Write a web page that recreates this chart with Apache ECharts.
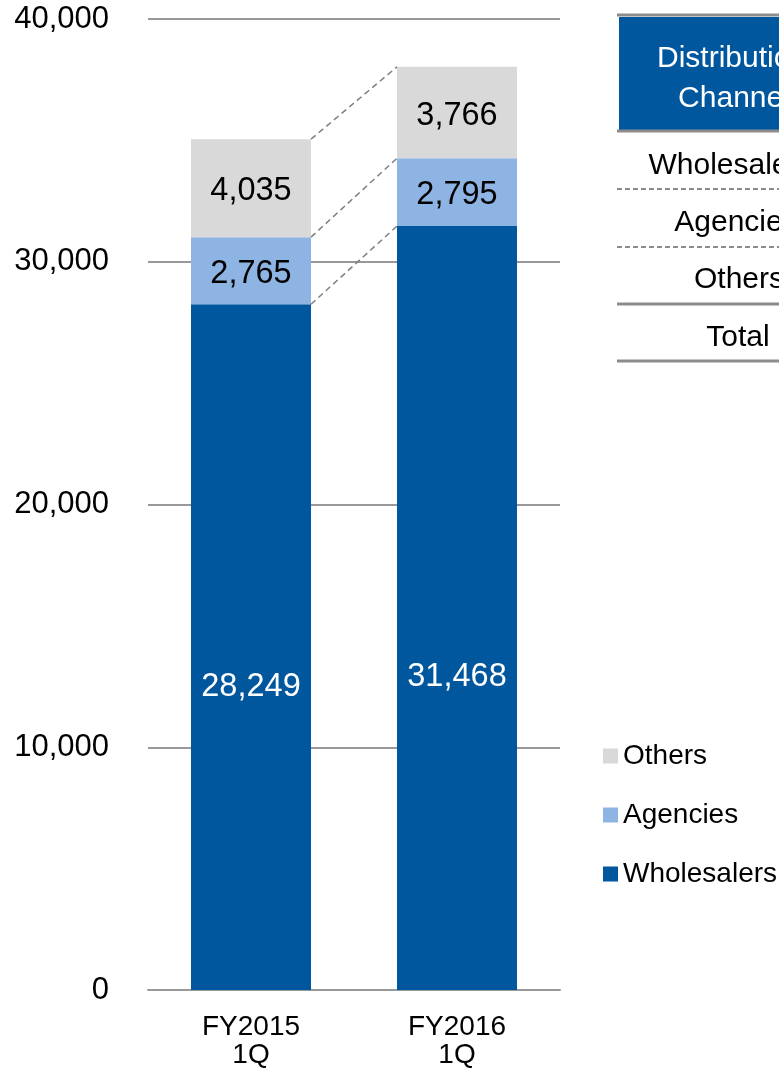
<!DOCTYPE html>
<html>
<head>
<meta charset="utf-8">
<script src="https://cdn.jsdelivr.net/npm/echarts@6/dist/echarts.min.js"></script>
<style>html,body{margin:0;padding:0;background:#fff}#c{width:779px;height:1068px}</style>
</head>
<body>
<div id="c"></div>
<script>
const categories = ['FY2015\n1Q', 'FY2016\n1Q'];
const wholesalers = [28249, 31468];
const agencies = [2765, 2795];
const others = [4035, 3766];
const yTicks = { min: 0, max: 40000, interval: 10000 };

const FONT = '"Liberation Sans", Arial, sans-serif';
const BAR_W = 120;
const wholesaleLabelOffsets = [40, 69];

const fmt = v => Number(v).toLocaleString('en-US');

const lvl1 = wholesalers.map(v => v);
const lvl2 = wholesalers.map((v, i) => v + agencies[i]);
const lvl3 = wholesalers.map((v, i) => v + agencies[i] + others[i]);
const connectorData = [lvl1, lvl2, lvl3].map(a => [categories[0], a[0], a[1]]);

const chart = echarts.init(document.getElementById('c'));
const labelBase = { show: true, position: 'inside', fontSize: 32.5, fontFamily: FONT, formatter: p => fmt(p.value), offset: [0, 3] };

chart.setOption({
  animation: false,
  backgroundColor: '#fff',
  grid: { left: 148, right: 219, top: 19, bottom: 78, containLabel: false, outerBoundsMode: 'none' },
  legend: {
    orient: 'vertical', left: 598, top: 737, itemWidth: 15, itemHeight: 15, itemGap: 31,
    icon: 'rect', data: ['Others', 'Agencies', 'Wholesalers'],
    textStyle: { fontSize: 28, fontFamily: FONT, color: '#000' }
  },
  xAxis: {
    type: 'category', data: categories,
    axisLine: { lineStyle: { color: '#999', width: 2 } },
    axisTick: { show: false },
    axisLabel: { fontSize: 28, fontFamily: FONT, color: '#000', lineHeight: 28, margin: 23 }
  },
  yAxis: {
    type: 'value', min: yTicks.min, max: yTicks.max, interval: yTicks.interval,
    axisLine: { show: false }, axisTick: { show: false },
    splitLine: { lineStyle: { color: '#999', width: 2 } },
    axisLabel: { fontSize: 31, fontFamily: FONT, color: '#000', margin: 39, formatter: v => fmt(v) }
  },
  series: [
    {
      name: 'Wholesalers', type: 'bar', stack: 's', barWidth: BAR_W,
      itemStyle: { color: '#01579E' },
      label: Object.assign({}, labelBase, { color: '#fff' }),
      data: wholesalers.map((v, i) => ({ value: v, label: { offset: [0, wholesaleLabelOffsets[i]] } }))
    },
    {
      name: 'Agencies', type: 'bar', stack: 's', barWidth: BAR_W,
      itemStyle: { color: '#8EB4E3' },
      label: Object.assign({}, labelBase, { color: '#000' }),
      data: agencies
    },
    {
      name: 'Others', type: 'bar', stack: 's', barWidth: BAR_W,
      itemStyle: { color: '#D9D9D9' },
      label: Object.assign({}, labelBase, { color: '#000' }),
      data: others
    },
    {
      type: 'custom', silent: true, z: 5,
      encode: { x: 0, y: 1 },
      data: connectorData,
      renderItem: function (params, api) {
        const p0 = api.coord([0, api.value(1)]);
        const p1 = api.coord([1, api.value(2)]);
        return {
          type: 'line',
          shape: { x1: p0[0] + BAR_W / 2, y1: p0[1], x2: p1[0] - BAR_W / 2, y2: p1[1] },
          style: { stroke: '#7f7f7f', lineWidth: 1.5, lineDash: [6, 4] }
        };
      }
    }
  ],
  graphic: [
    { type: 'rect', shape: { x: 619, y: 17, width: 170, height: 113 }, style: { fill: '#01579E' } },
    { type: 'line', shape: { x1: 617, y1: 15, x2: 790, y2: 15 }, style: { stroke: '#8c8c8c', lineWidth: 3 } },
    { type: 'line', shape: { x1: 617, y1: 131, x2: 790, y2: 131 }, style: { stroke: '#8c8c8c', lineWidth: 3 } },
    { type: 'line', shape: { x1: 617, y1: 189, x2: 790, y2: 189 }, style: { stroke: '#8c8c8c', lineWidth: 2, lineDash: [5, 3] } },
    { type: 'line', shape: { x1: 617, y1: 247, x2: 790, y2: 247 }, style: { stroke: '#8c8c8c', lineWidth: 2, lineDash: [5, 3] } },
    { type: 'line', shape: { x1: 617, y1: 304, x2: 790, y2: 304 }, style: { stroke: '#8c8c8c', lineWidth: 3 } },
    { type: 'line', shape: { x1: 617, y1: 361, x2: 790, y2: 361 }, style: { stroke: '#8c8c8c', lineWidth: 3 } },
    { type: 'text', style: { text: 'Distribution', x: 732, y: 59, textAlign: 'center', textVerticalAlign: 'middle', fill: '#fff', font: '30px ' + FONT } },
    { type: 'text', style: { text: 'Channel', x: 734, y: 99, textAlign: 'center', textVerticalAlign: 'middle', fill: '#fff', font: '30px ' + FONT } },
    { type: 'text', style: { text: 'Wholesalers', x: 731, y: 166, textAlign: 'center', textVerticalAlign: 'middle', fill: '#000', font: '30px ' + FONT } },
    { type: 'text', style: { text: 'Agencies', x: 736, y: 223, textAlign: 'center', textVerticalAlign: 'middle', fill: '#000', font: '30px ' + FONT } },
    { type: 'text', style: { text: 'Others', x: 739, y: 280, textAlign: 'center', textVerticalAlign: 'middle', fill: '#000', font: '30px ' + FONT } },
    { type: 'text', style: { text: 'Total', x: 738, y: 338, textAlign: 'center', textVerticalAlign: 'middle', fill: '#000', font: '30px ' + FONT } }
  ]
});
</script>
</body>
</html>
